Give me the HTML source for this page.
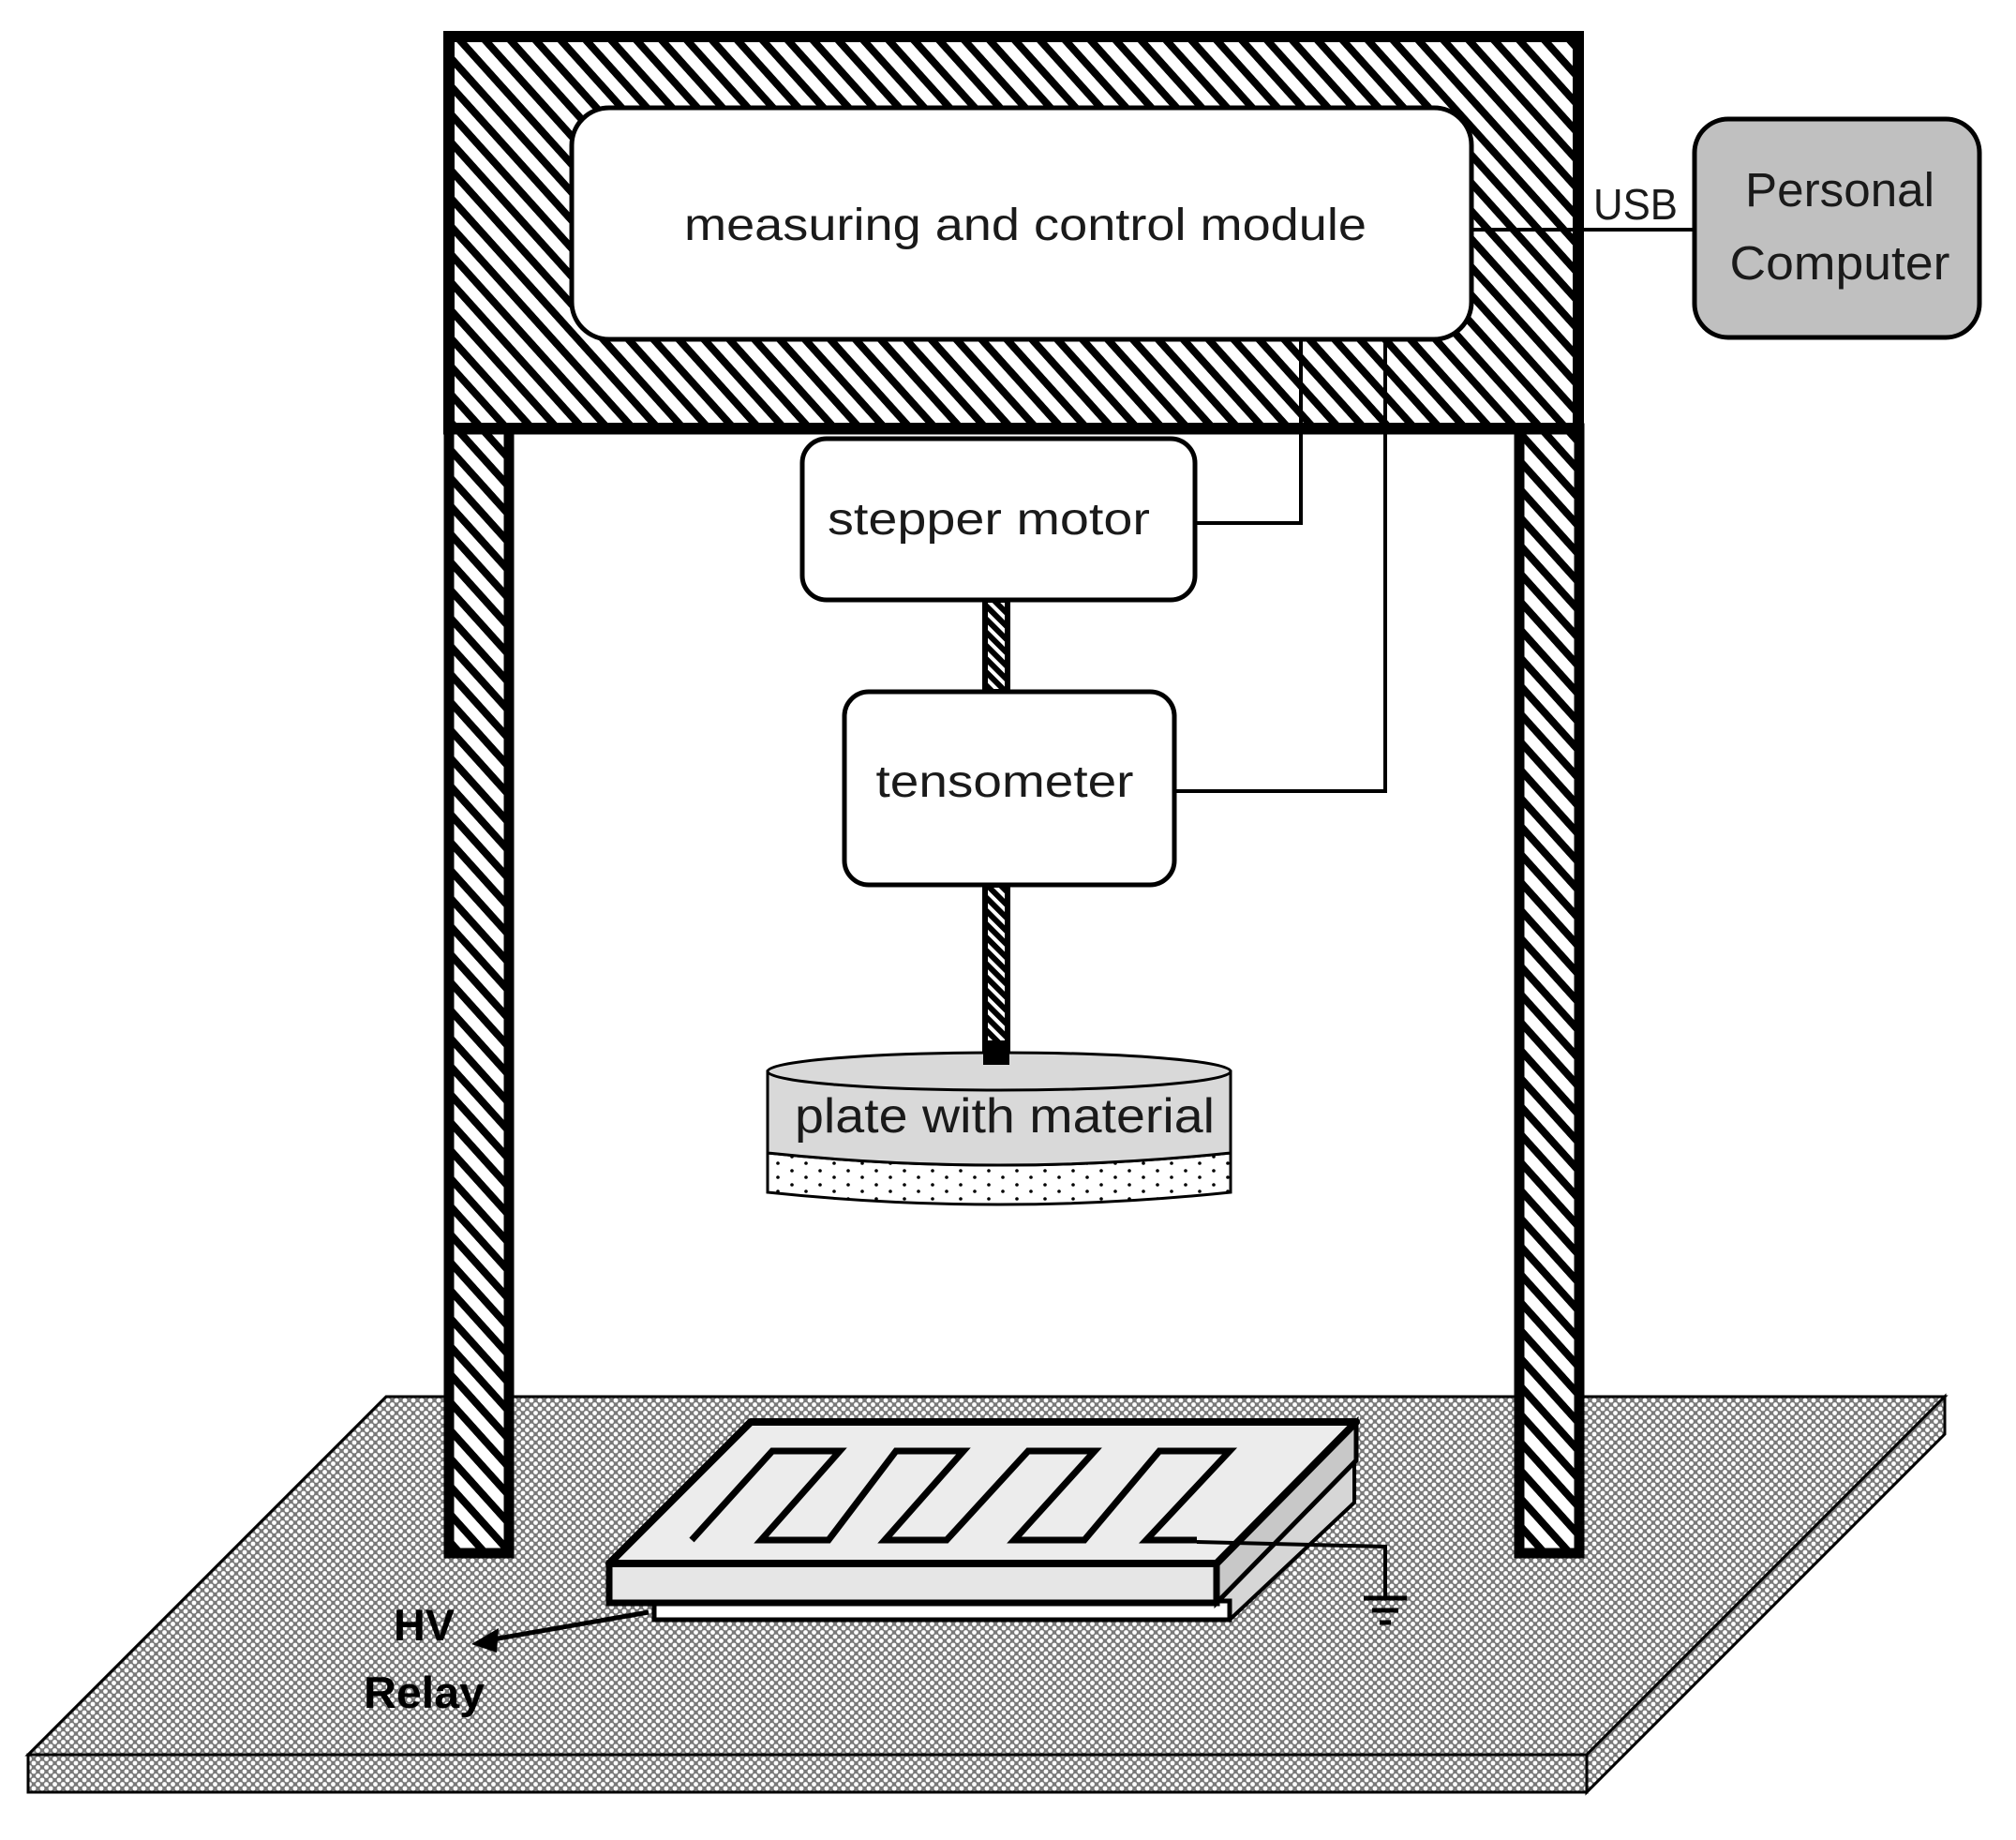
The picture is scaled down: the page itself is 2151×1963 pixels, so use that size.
<!DOCTYPE html>
<html><head><meta charset="utf-8"><style>html,body{margin:0;padding:0;background:#fff}svg{display:block}</style></head>
<body>
<svg width="2151" height="1963" viewBox="0 0 2151 1963" xmlns="http://www.w3.org/2000/svg" font-family="'Liberation Sans', sans-serif">
<defs>
<pattern id="hatch" patternUnits="userSpaceOnUse" width="20" height="20" patternTransform="rotate(48)">
<rect width="20" height="20" fill="#fff"/>
<rect y="0" width="20" height="8" fill="#000"/>
</pattern>
<pattern id="shaft" patternUnits="userSpaceOnUse" width="10" height="10" patternTransform="rotate(45)">
<rect width="10" height="10" fill="#fff"/>
<rect width="10" height="6" fill="#000"/>
</pattern>
<pattern id="chk" patternUnits="userSpaceOnUse" width="9" height="9">
<rect width="9" height="9" fill="#7a7a7a"/>
<circle cx="0" cy="0" r="2.4" fill="#fff"/><circle cx="9" cy="0" r="2.4" fill="#fff"/>
<circle cx="0" cy="9" r="2.4" fill="#fff"/><circle cx="9" cy="9" r="2.4" fill="#fff"/>
<circle cx="4.5" cy="4.5" r="2.4" fill="#fff"/>
</pattern>
<pattern id="dots" patternUnits="userSpaceOnUse" width="30" height="15">
<rect width="30" height="15" fill="#fff"/>
<circle cx="5" cy="4" r="1.8" fill="#000"/><circle cx="20" cy="11" r="1.8" fill="#000"/>
</pattern>
</defs>

<!-- platform -->
<polygon points="412,1490 2075,1490 1693,1872 30,1872" fill="url(#chk)" stroke="#000" stroke-width="3"/>
<rect x="30" y="1872" width="1663" height="40" fill="url(#chk)" stroke="#000" stroke-width="3"/>
<polygon points="1693,1872 2075,1490 2075,1530 1693,1912" fill="url(#chk)" stroke="#000" stroke-width="3"/>

<!-- frame -->
<rect x="479" y="39" width="1205" height="418" fill="url(#hatch)" stroke="#000" stroke-width="12"/>
<rect x="479" y="457" width="64" height="1200" fill="url(#hatch)" stroke="#000" stroke-width="11"/>
<rect x="1621" y="457" width="64" height="1200" fill="url(#hatch)" stroke="#000" stroke-width="11"/>
<line x1="473" y1="458" x2="1690" y2="458" stroke="#000" stroke-width="11"/>

<!-- module -->
<rect x="610" y="115" width="960" height="247" rx="40" fill="#fff" stroke="#000" stroke-width="5"/>
<text x="1094" y="256" font-size="48" text-anchor="middle" textLength="728" lengthAdjust="spacingAndGlyphs" fill="#1a1a1a">measuring and control module</text>

<!-- USB -->
<line x1="1570" y1="245" x2="1808" y2="245" stroke="#000" stroke-width="4"/>
<text x="1700" y="234" font-size="46" textLength="90" lengthAdjust="spacingAndGlyphs" fill="#1a1a1a">USB</text>
<rect x="1808" y="127" width="304" height="233" rx="36" fill="#c0c0c0" stroke="#000" stroke-width="5"/>
<text x="1963" y="220" font-size="51" text-anchor="middle" textLength="202" lengthAdjust="spacingAndGlyphs" fill="#1a1a1a">Personal</text>
<text x="1963" y="298" font-size="51" text-anchor="middle" textLength="235" lengthAdjust="spacingAndGlyphs" fill="#1a1a1a">Computer</text>

<!-- wires -->
<path d="M1388 362 V558 H1275" fill="none" stroke="#000" stroke-width="4"/>
<path d="M1478 362 V844 H1253" fill="none" stroke="#000" stroke-width="4"/>

<!-- shafts -->
<rect x="1051" y="640" width="24" height="98" fill="url(#shaft)" stroke="#000" stroke-width="6"/>
<rect x="1051" y="944" width="24" height="190" fill="url(#shaft)" stroke="#000" stroke-width="6"/>

<!-- stepper -->
<rect x="856" y="468" width="419" height="172" rx="26" fill="#fff" stroke="#000" stroke-width="5"/>
<text x="1055" y="570" font-size="48" text-anchor="middle" textLength="344" lengthAdjust="spacingAndGlyphs" fill="#1a1a1a">stepper motor</text>
<!-- tensometer -->
<rect x="901" y="738" width="352" height="206" rx="26" fill="#fff" stroke="#000" stroke-width="5"/>
<text x="1072" y="850" font-size="48" text-anchor="middle" textLength="275" lengthAdjust="spacingAndGlyphs" fill="#1a1a1a">tensometer</text>

<!-- plate cylinder -->
<path d="M819 1230 Q1066 1256 1313 1230 V1272 Q1066 1298 819 1272 Z" fill="url(#dots)" stroke="#000" stroke-width="3"/>
<path d="M819 1143 V1230 Q1066 1256 1313 1230 V1143 Z" fill="#d9d9d9" stroke="#000" stroke-width="3"/>
<ellipse cx="1066" cy="1143" rx="247" ry="20" fill="#d9d9d9" stroke="#000" stroke-width="3"/>
<rect x="1049" y="1110" width="28" height="26" fill="#000"/>
<text x="1072" y="1208" font-size="52" text-anchor="middle" textLength="448" lengthAdjust="spacingAndGlyphs" fill="#1a1a1a">plate with material</text>

<!-- electrode plate -->
<polygon points="1298,1710 1445,1560 1445,1603 1312,1728" fill="#d6d6d6" stroke="#000" stroke-width="4"/>
<rect x="698" y="1708" width="614" height="20" fill="#fff" stroke="#000" stroke-width="5"/>
<polygon points="1447,1517 1447,1558 1298,1710 1298,1668" fill="#c8c8c8" stroke="#000" stroke-width="5"/>
<rect x="650" y="1668" width="648" height="42" fill="#e6e6e6" stroke="#000" stroke-width="7"/>
<polygon points="801,1517 1447,1517 1298,1668 650,1668" fill="#ececec" stroke="#000" stroke-width="8" stroke-linejoin="round"/>
<path d="M738 1643 L824 1548 H896 L812 1643 H884 L956 1548 H1028 L944 1643 H1010 L1097 1548 H1168 L1082 1643 H1157 L1237 1548 H1312 L1223 1643 H1277" fill="none" stroke="#000" stroke-width="7" stroke-linejoin="miter"/>
<path d="M1277 1645 L1478 1650 V1705" fill="none" stroke="#000" stroke-width="4"/>
<line x1="1455" y1="1705" x2="1501" y2="1705" stroke="#000" stroke-width="5"/>
<line x1="1464" y1="1718" x2="1492" y2="1718" stroke="#000" stroke-width="5"/>
<line x1="1472" y1="1731" x2="1484" y2="1731" stroke="#000" stroke-width="5"/>

<!-- HV arrow -->
<line x1="692" y1="1720" x2="520" y2="1750" stroke="#000" stroke-width="5"/>
<polygon points="503,1754 532,1737 530,1763" fill="#000"/>
<text x="420" y="1750" font-size="47" font-weight="bold" textLength="65" lengthAdjust="spacingAndGlyphs" fill="#000">HV</text>
<text x="388" y="1822" font-size="47" font-weight="bold" textLength="129" lengthAdjust="spacingAndGlyphs" fill="#000">Relay</text>
</svg>
</body></html>
